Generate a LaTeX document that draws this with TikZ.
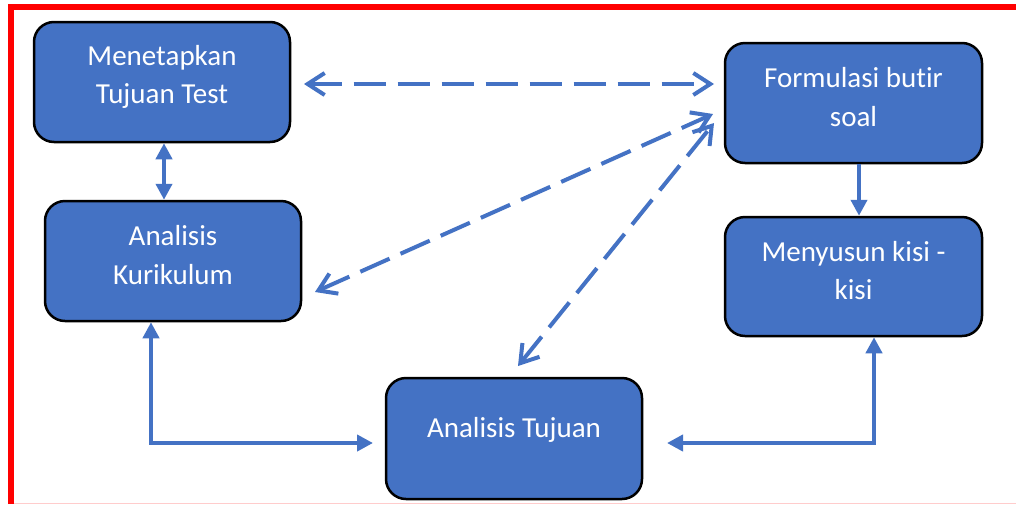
\documentclass[tikz,border=0pt]{standalone}
\usepackage{fontspec}
\setmainfont{Carlito}[Ligatures=NoCommon]
\usetikzlibrary{arrows.meta}
\definecolor{boxblue}{HTML}{4472C4}
\definecolor{linkblue}{HTML}{4472C4}
\begin{document}
\begin{tikzpicture}[x=1pt,y=-1pt,
  box/.style={draw=black, line width=2.5pt, fill=boxblue, rounded corners=20pt,
    minimum width=256pt, minimum height=120pt, inner sep=0pt},
  lbl/.style={text=white, align=center, font=\fontsize{29}{38.5}\selectfont, inner sep=0pt},
  solidlink/.style={draw=linkblue, line width=4.2pt},
  dbl/.style={arrows={Triangle[length=16pt,width=16pt]-Triangle[length=16pt,width=16pt]}},
  sgl/.style={arrows={-Triangle[length=16pt,width=16pt]}},
  dashlink/.style={draw=linkblue, line width=4pt, dash pattern=on 32pt off 12pt,
    arrows={Straight Barb[length=17pt,width=22pt]-Straight Barb[length=17pt,width=22pt]}},
]
\useasboundingbox (0,0) rectangle (1016,504);
\fill[white] (0,0) rectangle (1016,504);

% frame
\draw[red, line width=6pt] (11,504) -- (11,7) -- (1016,7);
\draw[red!20, line width=1.2pt] (14,503.4) -- (1016,503.4);

% boxes
\node[box] (b1) at (162,82) {};
\node[lbl] (t1) at ([yshift=5pt]b1.center) {Menetapkan\\Tujuan Test};

\node[box] (b2) at (173,261) {};
\node[lbl] (t2) at ([yshift=6pt]b2.center) {Analisis\\Kurikulum};

\node[box, minimum height=121pt] (b3) at (514,438.5) {};
\node[lbl] (t3) at ([yshift=9pt]b3.center) {Analisis Tujuan};

\node[box, minimum width=257pt] (b4) at (853.5,103) {};
\node[lbl] (t4) at ([yshift=6pt]b4.center) {Formulasi butir\\soal};

\node[box, minimum width=257pt, minimum height=119pt] (b5) at (853.5,276.5) {};
\node[lbl] (t5) at ([yshift=6pt]b5.center) {Menyusun kisi -\\kisi};

% solid connectors
\coordinate (x1) at (164,0);
\draw[solidlink, dbl] (b1.south -| x1) -- (b2.north -| x1);

\coordinate (x2) at (859,0);
\draw[solidlink, sgl] (b4.south -| x2) -- (b5.north -| x2);

\coordinate (x3) at (151,0);
\coordinate (e1) at (373,443);
\draw[solidlink, dbl] (b2.south -| x3) |- (e1);

\coordinate (x4) at (874,0);
\coordinate (e2) at (667,443);
\draw[solidlink, dbl] (e2) -| (b5.south -| x4);

% dashed connectors
\coordinate (p1) at (304,84);
\coordinate (q1) at (714,84);
\draw[dashlink] (p1) -- (q1);

\coordinate (p2) at (315,292);
\coordinate (q2) at (713,114);
\draw[dashlink] (p2) -- (q2);

\coordinate (p3) at (518,366);
\coordinate (q3) at (714,123);
\draw[dashlink] (p3) -- (q3);
\end{tikzpicture}
\end{document}
